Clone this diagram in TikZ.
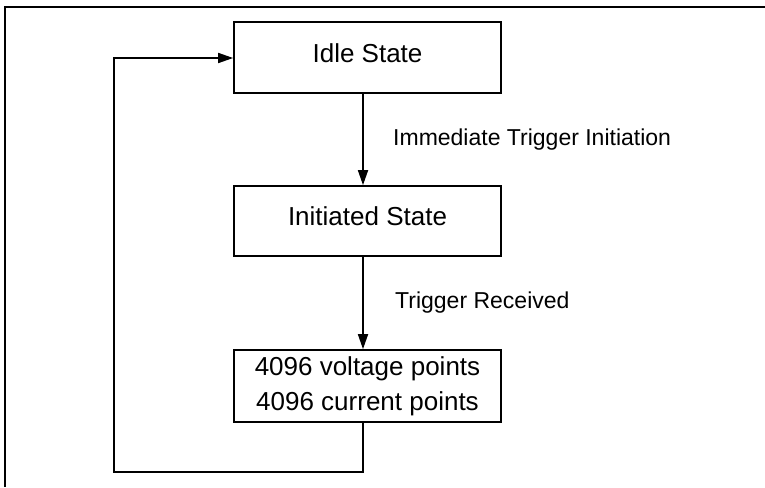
\documentclass[tikz,border=0pt]{standalone}
\usepackage{fontspec}
\setmainfont{Liberation Sans}
\usepackage{tikz}
\usetikzlibrary{arrows.meta}
\usetikzlibrary{positioning}

\begin{document}
\begin{tikzpicture}[x=1pt,y=-1pt,
    statebox/.style={draw,line width=1.7pt,minimum width=267pt,inner sep=0pt,
      font=\fontsize{26}{35}\selectfont,align=center},
    edgelabel/.style={anchor=west,inner sep=0pt,font=\fontsize{23}{28}\selectfont},
    flow/.style={line width=1.7pt,-{Triangle[length=15pt,width=10pt]}}]

  \useasboundingbox (0,0) rectangle (765,487);

  % open frame round the picture
  \draw [line width=1.8pt] (765,7) -- (5,7) -- (5,487);

  % setup the states
  \node[statebox,minimum height=71pt,text depth=9pt] (idle) at (367.5,57.5) {Idle State};
  \node[statebox,minimum height=70pt,text depth=9pt] (initiated) at (367.5,221) {Initiated State};
  \node[statebox,minimum height=72pt] (points) at (367.5,386)
      {4096 voltage points\\4096 current points};

  % transitions
  \draw [flow] ([xshift=-4.5pt]idle.south) -- ([xshift=-4.5pt]initiated.north);
  \draw [flow] ([xshift=-4.5pt]initiated.south) -- ([xshift=-4.5pt]points.north);
  \node[edgelabel] (immlabel) at (393,140) {Immediate Trigger Initiation};
  \node[edgelabel] (trglabel) at (395,303) {Trigger Received};

  % back to idle
  \coordinate (loopA) at (363,472);
  \coordinate (loopB) at (114,472);
  \coordinate (loopC) at (114,58);
  \draw [flow] ([xshift=-4.5pt]points.south) -- (loopA) -- (loopB) -- (loopC)
      -- (idle.west |- loopC);

\end{tikzpicture}
\end{document}
